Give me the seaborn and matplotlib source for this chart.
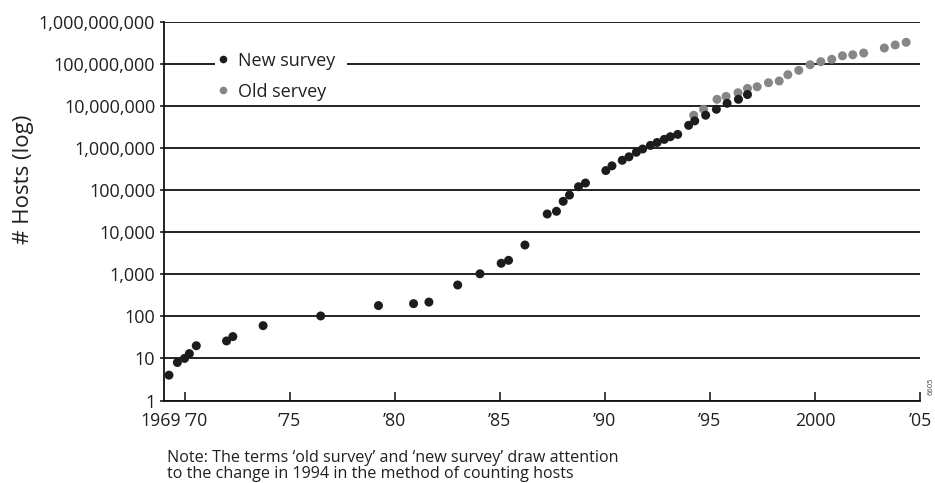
import matplotlib
matplotlib.use("Agg")
import matplotlib.pyplot as plt
import matplotlib.ticker as mticker
import matplotlib.transforms as mtransforms
from matplotlib.lines import Line2D
from matplotlib.patches import Rectangle
import pandas as pd
import seaborn as sns

# Internet host counts (Internet Domain Survey)
new_years = [1969.26, 1969.66, 1970.0, 1970.23, 1970.56, 1972.0, 1972.3, 1973.74,
             1976.48, 1979.23, 1980.9, 1981.63, 1983.0, 1984.06, 1985.07, 1985.42,
             1986.2, 1987.26, 1987.7, 1988.02, 1988.32, 1988.75, 1989.08, 1990.05,
             1990.34, 1990.83, 1991.15, 1991.5, 1991.8, 1992.17, 1992.49, 1992.83,
             1993.12, 1993.47, 1993.99, 1994.28, 1994.8, 1995.31, 1995.82, 1996.36,
             1996.79]
new_hosts = [4, 8, 10, 13, 20, 26, 33, 60, 102, 180, 200, 218, 555, 1024, 1820,
             2140, 4950, 27000, 31300, 54000, 76000, 120000, 147000, 290000, 376000,
             510000, 617000, 790000, 945000, 1150000, 1350000, 1600000, 1850000,
             2100000, 3450000, 4400000, 6000000, 8300000, 11500000, 14300000,
             18600000]

old_years = [1994.23, 1994.7, 1995.34, 1995.77, 1996.34, 1996.79, 1997.25, 1997.79,
             1998.3, 1998.71, 1999.23, 1999.77, 2000.28, 2000.8, 2001.31, 2001.8,
             2002.32, 2003.3, 2003.82, 2004.34]
old_hosts = [6000000, 8300000, 14300000, 16800000, 20500000, 26000000, 28500000,
             35500000, 39000000, 55000000, 70000000, 95000000, 112000000, 128000000,
             155000000, 164000000, 180000000, 237000000, 280000000, 324000000]

series_labels = ["New survey", "Old servey"]
x_ticks = [1969, 1970, 1975, 1980, 1985, 1990, 1995, 2000, 2005]
x_labels = ["1969", "\u201970", "\u201975", "\u201980", "\u201985", "\u201990",
            "\u201995", "2000", "\u201905"]
y_ticks = [1, 10, 100, 1_000, 10_000, 100_000, 1_000_000, 10_000_000,
           100_000_000, 1_000_000_000]
note_lines = [
    "Note: The terms \u2018old survey\u2019 and \u2018new survey\u2019 draw attention",
    "to the change in 1994 in the method of counting hosts",
]

INK = "#231f20"
colors = {series_labels[0]: "#1c1c1c", series_labels[1]: "#868686"}

df = pd.concat([
    pd.DataFrame({"year": old_years, "hosts": old_hosts, "survey": series_labels[1]}),
    pd.DataFrame({"year": new_years, "hosts": new_hosts, "survey": series_labels[0]}),
], ignore_index=True)

sns.set_theme(style="white")
plt.rcParams["font.family"] = ["Open Sans", "DejaVu Sans"]
plt.rcParams["text.color"] = INK
plt.rcParams["axes.labelcolor"] = INK
plt.rcParams["xtick.color"] = INK
plt.rcParams["ytick.color"] = INK

W, H = 935, 483
AX_L, AX_R, AX_T, AX_B = 163.5, 920, 21.7, 400.5
fig = plt.figure(figsize=(W / 100, H / 100), dpi=100)
ax = fig.add_axes([AX_L / W, 1 - AX_B / H, (AX_R - AX_L) / W, (AX_B - AX_T) / H])
ax_w, ax_h = AX_R - AX_L, AX_B - AX_T

sns.scatterplot(data=df, x="year", y="hosts", hue="survey", palette=colors,
                s=42, linewidth=0, legend=False, ax=ax, zorder=3)

ax.set_yscale("log")
ax.set_ylim(1, 1e9)
ax.set_xlim(1969, 2005)

ax.set_yticks(y_ticks)
ax.yaxis.set_minor_locator(mticker.NullLocator())
ax.yaxis.set_major_formatter(mticker.FuncFormatter(lambda v, p: f"{int(round(v)):,}"))
ax.grid(axis="y", color="#111111", linewidth=1.3)
ax.grid(axis="x", visible=False)

ax.set_xticks(x_ticks)
ax.set_xticklabels(x_labels)
ax.tick_params(axis="x", direction="in", length=6.5, width=1.2, pad=8,
               labelsize=12.8, color=INK, bottom=True)
ax.tick_params(axis="y", direction="out", length=3, width=1.2, pad=3,
               labelsize=13, color=INK, left=True)
xt = ax.get_xticklabels()
xt[0].set_transform(xt[0].get_transform()
                    + mtransforms.ScaledTranslation(-3 / 100, 0, fig.dpi_scale_trans))
xt[1].set_horizontalalignment("left")
ax.xaxis.get_major_ticks()[0].tick1line.set_visible(False)

for side in ("top", "right"):
    ax.spines[side].set_visible(False)
for side in ("left", "bottom"):
    ax.spines[side].set_color("#111111")
    ax.spines[side].set_linewidth(1.3)

ax.set_xlabel("")
ax.set_ylabel("# Hosts (log)", fontsize=16)
ax.yaxis.set_label_coords((34 - AX_L) / ax_w, (AX_B - 179) / ax_h)

# white gap in the 100,000,000 gridline behind the legend
ax.add_patch(Rectangle(((215 - AX_L) / ax_w, 8 / 9 - 5 / ax_h), (347 - 215) / ax_w,
                       10 / ax_h, transform=ax.transAxes, facecolor="white",
                       edgecolor="none", zorder=2))

handles = [Line2D([], [], marker="o", linestyle="none", markersize=5.5,
                  markerfacecolor=colors[s], markeredgecolor="none")
           for s in series_labels]
leg = ax.legend(handles, series_labels, loc="upper left",
                bbox_to_anchor=((215 - AX_L) / ax_w, 1 - (49 - AX_T) / ax_h),
                frameon=True, fancybox=False, framealpha=1, facecolor="white",
                edgecolor="none", fontsize=13, handlelength=0.6, handletextpad=0.5,
                borderpad=0.15, labelspacing=0.72, borderaxespad=0)
leg.set_zorder(5)
for t in leg.get_texts():
    t.set_color(INK)

for i, line in enumerate(note_lines):
    fig.text(166.7 / W, 1 - (462 + 16 * i) / H, line,
             fontsize=11.6, color=INK, ha="left", va="baseline")

fig.text(931 / W, 1 - 386 / H, "6605", fontsize=5.5, rotation=90,
         color="#444444", ha="center", va="center")

fig.savefig("out.png", dpi=100)
